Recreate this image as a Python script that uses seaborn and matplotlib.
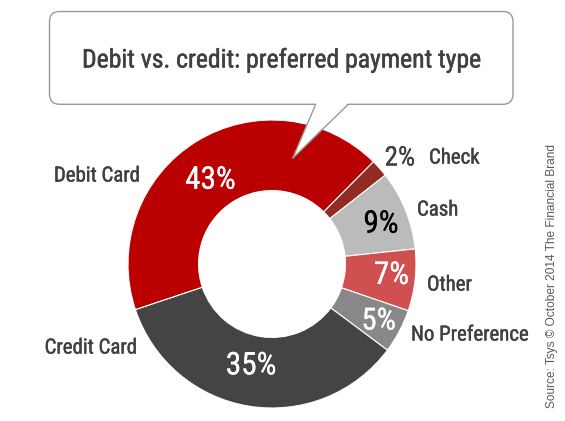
import matplotlib
matplotlib.use("Agg")
import matplotlib.pyplot as plt
import matplotlib.patheffects as pe
import seaborn as sns
from matplotlib.patches import FancyBboxPatch, Polygon
from matplotlib.lines import Line2D
import numpy as np

# ---- data ----
categories = ["Debit Card", "Check", "Cash", "Other", "No Preference", "Credit Card"]
values = [43, 2, 9, 7, 5, 35]
title_text = "Debit vs. credit: preferred payment type"
source_text = "Source: Tsys \u00a9 October 2014 The Financial Brand"

# ---- style ----
sns.set_theme(style="white")
colors = sns.color_palette(["#BA0000", "#922B22", "#BBBBBB", "#D04F4F", "#888888", "#444444"])
pct_colors = ["white", "#404040", "black", "white", "white", "white"]
pct_sizes = [22.5, 19.5, 22.5, 22.5, 22, 22.5]
pct_radius = [104, 166, 116, 120, 121, 104]
pct_nudge = [4.5, -2.0, -2.0, 1.0, -0.3, -2.5]
NARROW = ["Liberation Sans Narrow", "Roboto Condensed", "Liberation Sans", "DejaVu Sans"]
REG = ["Liberation Sans", "DejaVu Sans"]
TXT = "#404040"

def heavy(col, lw=0.6):
    return [pe.withStroke(linewidth=lw, foreground=col)]

W, H = 565, 421
fig = plt.figure(figsize=(W / 100, H / 100), dpi=100)
ax = fig.add_axes([0, 0, 1, 1])

def Y(y):
    return H - y

cx, cy = 272, Y(264)
R = 144
wedges, _ = ax.pie(values, colors=colors, startangle=198.5, counterclock=False,
                   radius=R, center=(cx, cy),
                   wedgeprops=dict(width=R * 0.49, edgecolor="white", linewidth=0.8))
ax.set_xlim(0, W)
ax.set_ylim(0, H)
ax.set_aspect("equal")
ax.axis("off")

# percent labels
for w, v, col, fs, r, nd in zip(wedges, values, pct_colors, pct_sizes, pct_radius, pct_nudge):
    mid = np.deg2rad((w.theta1 + w.theta2) / 2 + nd)
    ax.text(cx + r * np.cos(mid), cy + r * np.sin(mid), f"{v}%", color=col,
            fontsize=fs, family=NARROW, ha="center", va="center",
            path_effects=heavy(col, 0.15))

# category labels (layout positions in image pixels)
cat_pos = {
    "Debit Card": (140, 176, "right"),
    "Check": (429, 158, "left"),
    "Cash": (417, 210, "left"),
    "Other": (427, 285, "left"),
    "No Preference": (411, 335, "left"),
    "Credit Card": (137, 348, "right"),
}
for c in categories:
    x, y, ha = cat_pos[c]
    ax.text(x, Y(y), c, color=TXT, fontsize=15, family=NARROW, ha=ha, va="center",
            path_effects=heavy(TXT, 0.3))

# speech bubble
bx0, by0, bx1, by1 = 49.5, 11.5, 513, 104.3
box = FancyBboxPatch((bx0, Y(by1)), bx1 - bx0, by1 - by0,
                     boxstyle="round,pad=0,rounding_size=10",
                     facecolor="white", edgecolor="#999999", linewidth=1.0, zorder=5)
ax.add_patch(box)
tail = [(315.7, Y(by1 - 1.5)), (292.7, Y(158.3)), (348.3, Y(by1 - 1.5))]
ax.add_patch(Polygon(tail, closed=True, facecolor="white", edgecolor="none", zorder=6))
ax.add_line(Line2D([315.7, 292.7, 348.3], [Y(by1), Y(158.3), Y(by1)],
                   color="#999999", linewidth=1.0, zorder=7))
ax.text((bx0 + bx1) / 2, Y(60), title_text, color=TXT, fontsize=18.5, family=NARROW,
        ha="center", va="center", zorder=8, path_effects=heavy(TXT, 0.35))

# source
ax.text(552, Y(276.5), source_text, color="#595959", fontsize=8.6, family=REG,
        rotation=90, ha="center", va="center")

fig.savefig("out.png", dpi=100)
